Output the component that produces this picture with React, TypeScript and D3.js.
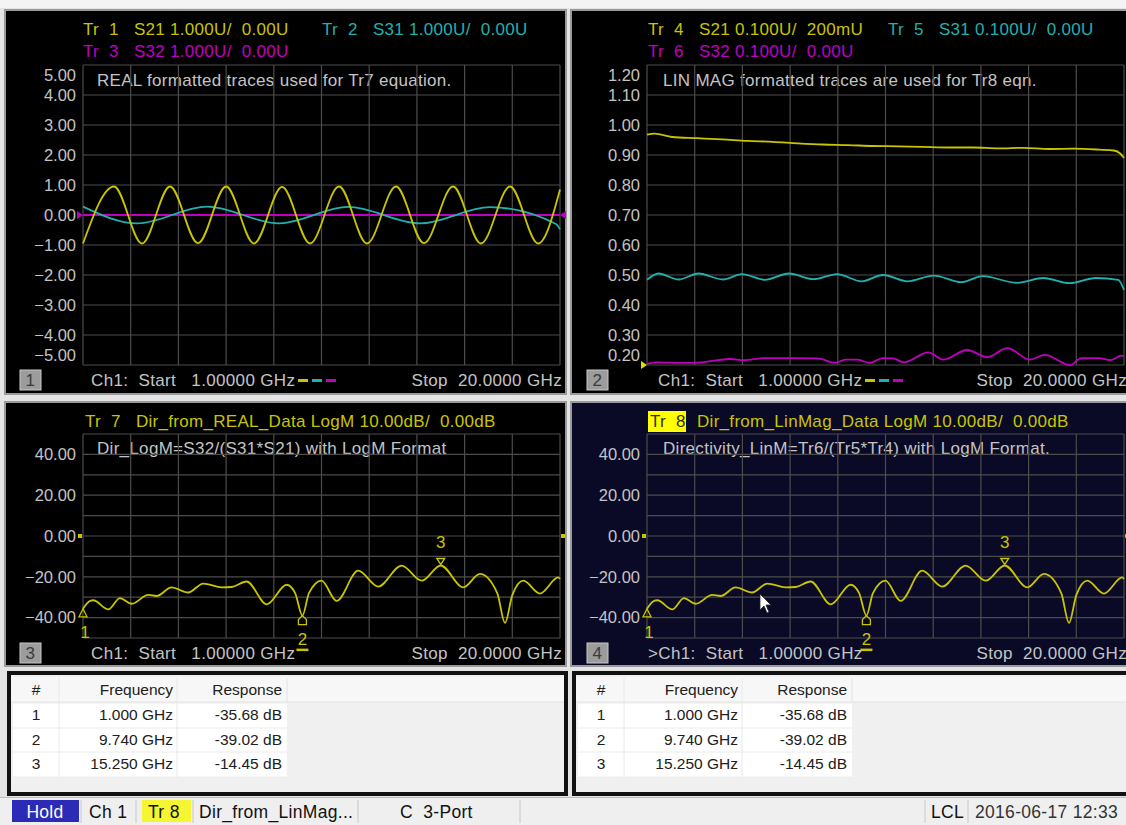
import * as d3 from 'd3';

// sweep
const startGHz = 1;
const stopGHz = 20;

// window 1, REAL format (U)
const tr1Freq = [1.0, 2.235, 3.35, 4.465, 5.58, 6.7, 7.81, 8.93, 10.04, 11.2, 12.31, 13.47, 14.58, 15.74, 16.85, 18.01, 19.13, 20.0];
const tr1Real = [-0.95, 0.95, -0.95, 0.95, -0.94, 0.95, -0.95, 0.94, -0.95, 0.95, -0.95, 0.95, -0.94, 0.95, -0.95, 0.95, -0.95, 0.85];
const tr2Freq = [1.0, 3.15, 5.94, 8.81, 11.56, 14.42, 17.21, 19.84, 20.0];
const tr2Real = [0.28, -0.28, 0.28, -0.28, 0.27, -0.28, 0.26, -0.3, -0.48];
const tr3Freq = [1.0, 20.0];
const tr3Real = [0.0, 0.0];

// window 2, LIN MAG format (U)
const tr4Freq = [1.0, 1.3, 2, 3, 4, 5, 6, 7, 8, 9, 10, 11, 12, 13, 14, 15, 16, 17, 18, 19, 19.6, 19.85, 20.0];
const tr4Mag = [0.968, 0.971, 0.96, 0.956, 0.952, 0.947, 0.944, 0.939, 0.935, 0.933, 0.93, 0.929, 0.927, 0.925, 0.925, 0.922, 0.924, 0.92, 0.921, 0.918, 0.915, 0.905, 0.89];
const tr5Freq = [1.0, 1.45, 2.26, 3.05, 4.02, 4.78, 5.69, 6.66, 7.63, 8.57, 9.55, 10.4, 11.38, 12.42, 13.53, 14.36, 15.75, 16.79, 17.83, 18.87, 19.77, 20.0];
const tr5Mag = [0.484, 0.505, 0.485, 0.505, 0.485, 0.503, 0.484, 0.505, 0.486, 0.503, 0.479, 0.5, 0.479, 0.498, 0.476, 0.496, 0.474, 0.49, 0.473, 0.49, 0.484, 0.45];
const tr6Freq = [1.0, 1.4, 2.5, 3.2, 4.3, 4.85, 5.7, 6.7, 7.8, 8.5, 8.9, 9.4, 9.85, 10.4, 10.8, 11.25, 12.2, 12.8, 13.75, 14.55, 15.35, 16.25, 16.85, 17.85, 18.3, 19.0, 19.45, 19.9, 20.0];
const tr6Mag = [0.204, 0.209, 0.207, 0.209, 0.22, 0.216, 0.223, 0.223, 0.222, 0.207, 0.218, 0.218, 0.207, 0.223, 0.222, 0.209, 0.242, 0.218, 0.25, 0.226, 0.256, 0.218, 0.234, 0.2, 0.223, 0.223, 0.216, 0.231, 0.229];

// windows 3 and 4, directivity in dB (Tr7 and Tr8 read the same)
const dirFreq = [1.0, 1.28, 1.41, 2.01, 2.47, 2.94, 3.6, 3.93, 4.53, 5.19, 5.79, 6.52, 6.92, 7.52, 8.32, 9.11, 9.45, 9.74, 10.0, 10.5, 11.1, 11.96, 12.76, 13.69, 14.49, 15.25, 16.15, 16.81, 17.5, 17.81, 18.1, 18.54, 19.2, 19.93, 20.0];
const dirDb = [-35.68, -31.8, -31.5, -36.0, -30.5, -33.2, -28.9, -29.4, -25.2, -27.7, -23.3, -25.2, -25.0, -22.3, -33.5, -23.9, -28.0, -39.02, -28.0, -21.9, -31.8, -17.0, -24.8, -14.5, -21.9, -14.45, -25.2, -18.6, -28.0, -42.6, -29.0, -21.9, -28.2, -20.3, -21.1];

// marker table
const markerIds = [1, 2, 3];
const markerFreq = [1.0, 9.74, 15.25];
const markerResp = [-35.68, -39.02, -14.45];
const markerFreqText = ['1.000 GHz', '9.740 GHz', '15.250 GHz'];
const markerRespText = ['-35.68 dB', '-39.02 dB', '-14.45 dB'];

const FONT = "'Liberation Sans', Arial, sans-serif";
const YEL = '#c9c400';
const TEAL = '#20b0b0';
const MAG = '#c000c0';
const GRID = '#4c4c4c';
const LBL = '#c4c4c4';

type Trace = { freq: number[]; vals: number[]; color: string };

// text that keeps its double spaces
const T = (props: any) => <text xmlSpace="preserve" {...props} />;

const Plot = (props: any) => {
  const { left, top, width, height, yMin, yMax, labelIdx, traces, refMarks, markers, fmt } = props;
  const x = d3.scaleLinear().domain([startGHz, stopGHz]).range([left, left + width]);
  const y = d3.scaleLinear().domain([yMin, yMax]).range([top + height, top]);
  const xg = d3.range(11).map(i => startGHz + (i * (stopGHz - startGHz)) / 10);
  const yg = d3.range(11).map(i => yMin + (i * (yMax - yMin)) / 10);
  const line = d3.line<[number, number]>()
    .x(d => x(d[0]))
    .y(d => y(d[1]))
    .curve(d3.curveMonotoneX);

  return (
    <g>
      {xg.map((f, i) => (
        <line key={'x' + i} x1={x(f)} x2={x(f)} y1={top} y2={top + height} stroke={GRID} strokeWidth={1.2} />
      ))}
      {yg.map((v, i) => (
        <line key={'y' + i} x1={left} x2={left + width} y1={y(v)} y2={y(v)} stroke={GRID} strokeWidth={1.2} />
      ))}
      {yg.map((v, i) => {
        if (labelIdx && !labelIdx.includes(i)) return null;
        let yy = y(v);
        if (i === 10) yy += 10;
        if (i === 0) yy -= 10;
        return (
          <text key={'l' + i} x={left - 7} y={yy} dy="0.35em" textAnchor="end" fill={LBL} fontSize={16.5} fontFamily={FONT}>
            {d3.format(fmt)(v)}
          </text>
        );
      })}
      {(refMarks || []).map((r: any, i: number) => {
        const yy = y(r.value);
        if (r.shape === 'sq') {
          return (
            <g key={'r' + i}>
              <rect x={left - 5} y={yy - 2} width={4} height={4} fill={r.color} />
              <rect x={left + width + 1} y={yy - 2} width={4} height={4} fill={r.color} />
            </g>
          );
        }
        return (
          <g key={'r' + i}>
            <path d={`M${left - 6},${yy - 4}L${left},${yy}L${left - 6},${yy + 4}Z`} fill={r.color} />
            {r.both && <path d={`M${left + width + 6},${yy - 4}L${left + width},${yy}L${left + width + 6},${yy + 4}Z`} fill={r.color} />}
          </g>
        );
      })}
      {traces.map((t: Trace, i: number) => (
        <path key={'t' + i} d={line(t.freq.map((f, j) => [f, t.vals[j]] as [number, number])) || ''} fill="none" stroke={t.color} strokeWidth={1.8} />
      ))}
      {markers &&
        markerIds.map((id, i) => {
          const mx = x(markerFreq[i]);
          const my = y(markerResp[i]);
          if (id === 3) {
            return (
              <g key={'m' + i}>
                <path d={`M${mx - 4},${my - 7}L${mx + 4},${my - 7}L${mx},${my - 1}Z`} fill="none" stroke={YEL} strokeWidth={1.3} />
                <text x={mx} y={my - 17} textAnchor="middle" fill={YEL} fontSize={17} fontFamily={FONT}>{id}</text>
              </g>
            );
          }
          return (
            <g key={'m' + i}>
              {id === 2 ? (
                <path d={`M${mx},${my}L${mx + 4},${my + 4}L${mx + 4},${my + 9}L${mx - 4},${my + 9}L${mx - 4},${my + 4}Z`} fill="none" stroke={YEL} strokeWidth={1.3} />
              ) : (
                <path d={`M${mx},${my}L${mx + 4},${my + 8}L${mx - 4},${my + 8}Z`} fill="none" stroke={YEL} strokeWidth={1.3} />
              )}
              <text x={mx + (id === 1 ? 2 : 0)} y={my + 29} textAnchor="middle" fill={YEL} fontSize={17} fontFamily={FONT}>{id}</text>
              {id === 2 && <rect x={mx - 6} y={my + 33} width={12} height={2.5} fill={YEL} />}
            </g>
          );
        })}
    </g>
  );
};

const Footer = (props: any) => {
  const { x0, y, num, ch, right, dashes } = props;
  return (
    <g fontFamily={FONT} fontSize={17} letterSpacing={0.35}>
      <rect x={x0} y={y - 10} width={21} height={20} fill="#9c9c9c" stroke="#c8c8c8" strokeWidth={1} />
      <text x={x0 + 10.5} y={y} dy="0.35em" textAnchor="middle" fill="#3a3a3a">{num}</text>
      <T x={x0 + 71 - (ch.startsWith('>') ? 10 : 0)} y={y} dy="0.35em" fill={LBL}>{ch + '  Start   1.00000 GHz'}</T>
      {dashes && [YEL, TEAL, MAG].map((c, i) => (
        <rect key={i} x={x0 + 278 + i * 14} y={y - 1} width={10} height={3} fill={c} />
      ))}
      <T x={right} y={y} dy="0.35em" textAnchor="end" fill={LBL}>{'Stop  20.0000 GHz'}</T>
    </g>
  );
};

const MarkerTable = (props: any) => {
  const { x0 } = props;
  const rows = [715, 740, 764];
  return (
    <g fontFamily={FONT} fontSize={15.5} fill="#202020">
      <rect x={x0} y={671} width={561} height={125} fill="#111" />
      <rect x={x0 + 4} y={675} width={553} height={117} fill="#f0f0f0" />
      <rect x={x0 + 4} y={677} width={553} height={25} fill="#f7f7f7" />
      <line x1={x0 + 4} x2={x0 + 557} y1={702} y2={702} stroke="#e2e2e2" />
      <rect x={x0 + 6} y={703} width={274} height={74} fill="#ffffff" />
      {[703, 728, 752, 777].map(v => (
        <line key={v} x1={x0 + 6} x2={x0 + 280} y1={v} y2={v} stroke="#ececec" />
      ))}
      {[52, 170].map(v => (
        <line key={v} x1={x0 + v} x2={x0 + v} y1={678} y2={777} stroke="#e8e8e8" />
      ))}
      <line x1={x0 + 280} x2={x0 + 280} y1={678} y2={702} stroke="#e2e2e2" />
      <text x={x0 + 29} y={690} dy="0.35em" textAnchor="middle">#</text>
      <text x={x0 + 166} y={690} dy="0.35em" textAnchor="end">Frequency</text>
      <text x={x0 + 275} y={690} dy="0.35em" textAnchor="end">Response</text>
      {markerIds.map((id, i) => (
        <g key={id}>
          <text x={x0 + 29} y={rows[i]} dy="0.35em" textAnchor="middle">{id}</text>
          <text x={x0 + 166} y={rows[i]} dy="0.35em" textAnchor="end">{markerFreqText[i]}</text>
          <text x={x0 + 275} y={rows[i]} dy="0.35em" textAnchor="end">{markerRespText[i]}</text>
        </g>
      ))}
    </g>
  );
};

const App = () => {
  const win1: Trace[] = [
    { freq: tr3Freq, vals: tr3Real, color: MAG },
    { freq: tr2Freq, vals: tr2Real, color: TEAL },
    { freq: tr1Freq, vals: tr1Real, color: YEL },
  ];
  const win2: Trace[] = [
    { freq: tr4Freq, vals: tr4Mag, color: YEL },
    { freq: tr5Freq, vals: tr5Mag, color: TEAL },
    { freq: tr6Freq, vals: tr6Mag, color: MAG },
  ];
  const dir: Trace[] = [{ freq: dirFreq, vals: dirDb, color: YEL }];
  const hdr = { fontFamily: FONT, fontSize: 17, letterSpacing: 0.3 } as any;

  return (
    <div style={{ position: 'absolute', left: 0, top: 0 }}>
      <svg width={1126} height={825} style={{ display: 'block' }}>
        <rect x={0} y={0} width={1126} height={825} fill="#e4e4e4" />
        <rect x={0} y={0} width={1126} height={8} fill="#f4f4f4" />
        {/* window frames */}
        <rect x={5} y={10} width={561} height={384} fill="#000" stroke="#9a9a9a" strokeWidth={2} />
        <rect x={571} y={10} width={560} height={384} fill="#000" stroke="#9a9a9a" strokeWidth={2} />
        <rect x={5} y={402} width={561} height={264} fill="#000" stroke="#9a9a9a" strokeWidth={2} />
        <rect x={571} y={402} width={560} height={264} fill="#0a0a26" stroke="#9a9a9a" strokeWidth={2} />

        {/* window 1 */}
        <g {...hdr}>
          <T x={83} y={35} fill={YEL}>{'Tr  1   S21 1.000U/  0.00U'}</T>
          <T x={322} y={35} fill={TEAL}>{'Tr  2   S31 1.000U/  0.00U'}</T>
          <T x={83} y={57} fill={MAG}>{'Tr  3   S32 1.000U/  0.00U'}</T>
          <T x={97} y={86} fill={LBL}>REAL formatted traces used for Tr7 equation.</T>
        </g>
        <Plot left={83} top={65} width={477} height={300} yMin={-5} yMax={5} fmt=".2f" traces={win1}
          refMarks={[{ value: 0, color: MAG, both: true }]} />
        <Footer x0={20} y={380} num="1" ch="Ch1:" right={562} dashes />

        {/* window 2 */}
        <g {...hdr}>
          <T x={648} y={35} fill={YEL}>{'Tr  4   S21 0.100U/  200mU'}</T>
          <T x={888} y={35} fill={TEAL}>{'Tr  5   S31 0.100U/  0.00U'}</T>
          <T x={648} y={57} fill={MAG}>{'Tr  6   S32 0.100U/  0.00U'}</T>
          <T x={663} y={86} fill={LBL}>LIN MAG formatted traces are used for Tr8 eqn.</T>
        </g>
        <Plot left={647} top={65} width={477} height={300} yMin={0.2} yMax={1.2} fmt=".2f" traces={win2}
          refMarks={[{ value: 0.2, color: '#e0e000' }]} />
        <Footer x0={587} y={380} num="2" ch="Ch1:" right={1127} dashes />

        {/* window 3 */}
        <g {...hdr}>
          <T x={85} y={427} fill={YEL}>{'Tr  7   Dir_from_REAL_Data LogM 10.00dB/  0.00dB'}</T>
          <T x={97} y={454} fill={LBL}>Dir_LogM=S32/(S31*S21) with LogM Format</T>
        </g>
        <Plot left={83} top={434} width={477} height={204} yMin={-50} yMax={50} fmt=".2f" traces={dir}
          labelIdx={[1, 3, 5, 7, 9]} refMarks={[{ value: 0, color: YEL, shape: 'sq' }]} markers />
        <Footer x0={20} y={653} num="3" ch="Ch1:" right={562} />

        {/* window 4 */}
        <rect x={648} y={411} width={38} height={21} fill="#ffff00" />
        <g {...hdr}>
          <T x={650} y={427} fill="#303000">{'Tr  8'}</T>
          <T x={697} y={427} fill={YEL}>{'Dir_from_LinMag_Data LogM 10.00dB/  0.00dB'}</T>
          <T x={663} y={454} fill={LBL}>Directivity_LinM=Tr6/(Tr5*Tr4) with LogM Format.</T>
        </g>
        <Plot left={647} top={434} width={477} height={204} yMin={-50} yMax={50} fmt=".2f" traces={dir}
          labelIdx={[1, 3, 5, 7, 9]} refMarks={[{ value: 0, color: YEL, shape: 'sq' }]} markers />
        <Footer x0={587} y={653} num="4" ch=">Ch1:" right={1127} />
        {/* mouse pointer */}
        <path d="M760,594L760,610L764,606L767,613L769,612L766,605L771,605Z" fill="#ffffff" stroke="#222" strokeWidth={0.8} />

        {/* marker tables */}
        <MarkerTable x0={7} />
        <MarkerTable x0={572} />

        {/* status bar */}
        <rect x={0} y={797} width={1126} height={28} fill="#efefef" />
        <line x1={0} x2={1126} y1={797.5} y2={797.5} stroke="#bdbdbd" />
        <g fontFamily={FONT} fontSize={17.5} letterSpacing={0.3}>
          <rect x={12} y={800} width={67} height={22} fill="#2b2bb8" />
          <text x={45} y={812} dy="0.35em" textAnchor="middle" fill="#ffffff">Hold</text>
          <text x={89} y={812} dy="0.35em" fill="#111">Ch 1</text>
          <rect x={142} y={800} width={49} height={22} fill="#f5f531" />
          <text x={148} y={812} dy="0.35em" fill="#111">Tr 8</text>
          <text x={199} y={812} dy="0.35em" fill="#111">Dir_from_LinMag...</text>
          <T x={400} y={812} dy="0.35em" fill="#111">{'C  3-Port'}</T>
          <text x={931} y={812} dy="0.35em" fill="#111">LCL</text>
          <text x={975} y={812} dy="0.35em" fill="#333">2016-06-17 12:33</text>
          {[81, 136, 193, 358, 520, 925, 968].map(v => (
            <line key={v} x1={v} x2={v} y1={800} y2={823} stroke="#c8c8c8" />
          ))}
        </g>
      </svg>
    </div>
  );
};

export default App;
